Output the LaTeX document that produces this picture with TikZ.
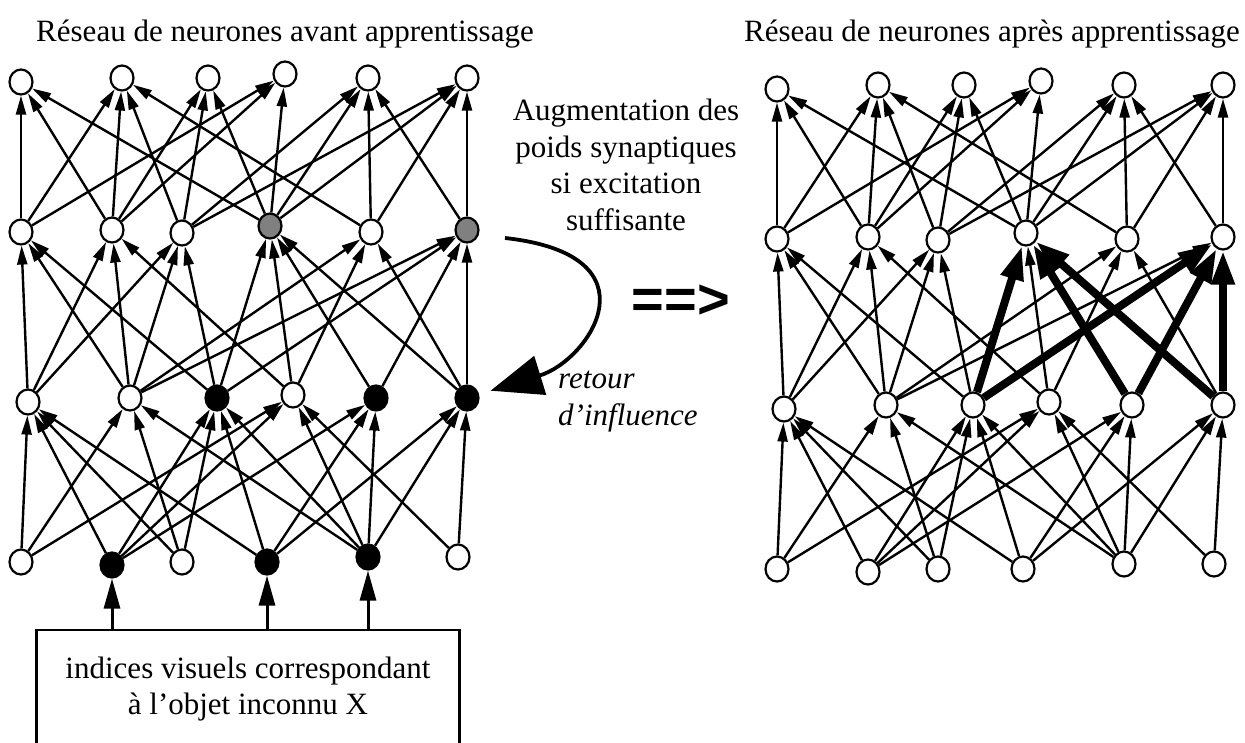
\documentclass[tikz,border=0pt]{standalone}
\usepackage{fontspec}
\setmainfont{Liberation Serif}
\newfontfamily\heavyfont{Liberation Sans}
\usepackage{tikz}
\usetikzlibrary{positioning}
\usetikzlibrary{calc}
\usetikzlibrary{arrows.meta}
\usetikzlibrary{shapes.geometric}

\begin{document}
\begin{tikzpicture}[x=1pt, y=-1pt, line width=2.4pt, >={Triangle[length=19pt,width=10pt]}]
	\tikzstyle{neuron}=[ellipse, draw=black, line width=2.2pt, fill=white, minimum width=23pt, minimum height=25pt, inner sep=0pt]
	\tikzstyle{fired}=[neuron, fill=black]
	\tikzstyle{halfway}=[neuron, fill=gray]
	\tikzstyle{strong}=[line width=8pt, -{Triangle[length=34pt,width=22pt]}]
	\tikzstyle{note}=[font=\fontsize{31}{36.5}\selectfont, inner sep=0pt, align=center]
	
	\useasboundingbox (0,0) rectangle (1245,742);
	
	\node at (285,41) [note, anchor=base] (titleL) {Réseau de neurones avant apprentissage};
	\node at (992,41) [note, anchor=base] (titleR) {Réseau de neurones après apprentissage};
	
	% avant apprentissage
	\node at (21,82)  [neuron] (y1) {};
	\node at (122,78) [neuron] (y2) {};
	\node at (208,78) [neuron] (y3) {};
	\node at (285,74) [neuron] (y4) {};
	\node at (368,78) [neuron] (y5) {};
	\node at (467,78) [neuron] (y6) {};
	
	\node at (21,232)  [neuron] (g1) {};
	\node at (112,230) [neuron] (g2) {};
	\node at (182,233) [neuron] (g3) {};
	\node at (270,226) [halfway] (g4) {};
	\node at (371,232) [neuron] (g5) {};
	\node at (467,230) [halfway] (g6) {};
	
	\node at (28,402)  [neuron] (h1) {};
	\node at (130,398) [neuron] (h2) {};
	\node at (217,398) [fired] (h3) {};
	\node at (293,395) [neuron] (h4) {};
	\node at (376,398) [fired] (h5) {};
	\node at (467,398) [fired] (h6) {};
	
	\node at (21,562)  [neuron] (x1) {};
	\node at (112,565) [fired] (x2) {};
	\node at (182,562) [neuron] (x3) {};
	\node at (267,562) [fired] (x4) {};
	\node at (368,557) [fired] (x5) {};
	\node at (458,557) [neuron] (x6) {};
	
	\draw [->] (x1) to (h1); \draw [->] (x1) to (h2); \draw [->] (x1) to (h4);
	\draw [->] (x2) to (h1); \draw [->] (x2) to (h3); \draw [->] (x2) to (h4); \draw [->] (x2) to (h5);
	\draw [->] (x3) to (h1); \draw [->] (x3) to (h2); \draw [->] (x3) to (h3);
	\draw [->] (x4) to (h1); \draw [->] (x4) to (h3); \draw [->] (x4) to (h5); \draw [->] (x4) to (h6);
	\draw [->] (x5) to (h2); \draw [->] (x5) to (h3); \draw [->] (x5) to (h4); \draw [->] (x5) to (h5); \draw [->] (x5) to (h6);
	\draw [->] (x6) to (h4); \draw [->] (x6) to (h6);
	
	\draw [->] (h1) to (g1); \draw [->] (h1) to (g2); \draw [->] (h1) to (g3);
	\draw [->] (h2) to (g1); \draw [->] (h2) to (g2); \draw [->] (h2) to (g3); \draw [->] (h2) to (g5); \draw [->] (h2) to (g6);
	\draw [->] (h3) to (g1); \draw [->] (h3) to (g3); \draw [->] (h3) to (g4); \draw [->] (h3) to (g6);
	\draw [->] (h4) to (g2); \draw [->] (h4) to (g4); \draw [->] (h4) to (g5);
	\draw [->] (h5) to (g4); \draw [->] (h5) to (g6);
	\draw [->] (h6) to (g4); \draw [->] (h6) to (g5); \draw [->] (h6) to (g6);
	
	\draw [->] (g1) to (y1); \draw [->] (g1) to (y2); \draw [->] (g1) to (y4);
	\draw [->] (g2) to (y1); \draw [->] (g2) to (y2); \draw [->] (g2) to (y3); \draw [->] (g2) to (y4);
	\draw [->] (g3) to (y2); \draw [->] (g3) to (y3); \draw [->] (g3) to (y5); \draw [->] (g3) to (y6);
	\draw [->] (g4) to (y1); \draw [->] (g4) to (y3); \draw [->] (g4) to (y4); \draw [->] (g4) to (y5); \draw [->] (g4) to (y6);
	\draw [->] (g5) to (y2); \draw [->] (g5) to (y5); \draw [->] (g5) to (y6);
	\draw [->] (g6) to (y5); \draw [->] (g6) to (y6);
	
	% entree
	\node at (248,689) [note, draw, line width=2.2pt, minimum width=423pt, minimum height=118pt] (cues) {indices visuels correspondant\\à l'objet inconnu X};
	\draw [->, line width=3pt, >={Triangle[length=30pt,width=16pt]}] (cues.north -| x2) to (x2);
	\draw [->, line width=3pt, >={Triangle[length=30pt,width=16pt]}] (cues.north -| x4) to (x4);
	\draw [->, line width=3pt, >={Triangle[length=30pt,width=16pt]}] (cues.north -| x5) to (x5);
	
	% retour
	\node at (626,98) [note, anchor=north] (rule) {Augmentation des\\poids synaptiques\\si excitation\\suffisante};
	\coordinate (feed) at (505,238);
	\draw [line width=3.8pt, -{Triangle[length=52pt,width=40pt]}, shorten >=12pt] (feed) .. controls (660,255) and (590,360) .. (h6);
	\node at (557,370) [note, anchor=north west, align=left, font=\fontsize{31}{36.5}\selectfont\itshape] (back) {retour\\d'influence};
	
	\node at (681,302) [font=\fontsize{56}{56}\selectfont\heavyfont\bfseries] (implies) {==>};
	
	% apres apprentissage
	\begin{scope}[shift={(756,7)}]
	\node at (21,82)  [neuron] (ry1) {};
	\node at (122,78) [neuron] (ry2) {};
	\node at (208,78) [neuron] (ry3) {};
	\node at (285,74) [neuron] (ry4) {};
	\node at (368,78) [neuron] (ry5) {};
	\node at (467,78) [neuron] (ry6) {};
	
	\node at (21,232)  [neuron] (rg1) {};
	\node at (112,230) [neuron] (rg2) {};
	\node at (182,233) [neuron] (rg3) {};
	\node at (270,226) [neuron] (rg4) {};
	\node at (371,232) [neuron] (rg5) {};
	\node at (467,230) [neuron] (rg6) {};
	
	\node at (28,402)  [neuron] (rh1) {};
	\node at (130,398) [neuron] (rh2) {};
	\node at (217,398) [neuron] (rh3) {};
	\node at (293,395) [neuron] (rh4) {};
	\node at (376,398) [neuron] (rh5) {};
	\node at (467,398) [neuron] (rh6) {};
	
	\node at (21,562)  [neuron] (rx1) {};
	\node at (112,565) [neuron] (rx2) {};
	\node at (182,562) [neuron] (rx3) {};
	\node at (267,562) [neuron] (rx4) {};
	\node at (368,557) [neuron] (rx5) {};
	\node at (458,557) [neuron] (rx6) {};
	\end{scope}
	
	\draw [->] (rx1) to (rh1); \draw [->] (rx1) to (rh2); \draw [->] (rx1) to (rh4);
	\draw [->] (rx2) to (rh1); \draw [->] (rx2) to (rh3); \draw [->] (rx2) to (rh4); \draw [->] (rx2) to (rh5);
	\draw [->] (rx3) to (rh1); \draw [->] (rx3) to (rh2); \draw [->] (rx3) to (rh3);
	\draw [->] (rx4) to (rh1); \draw [->] (rx4) to (rh3); \draw [->] (rx4) to (rh5); \draw [->] (rx4) to (rh6);
	\draw [->] (rx5) to (rh2); \draw [->] (rx5) to (rh3); \draw [->] (rx5) to (rh4); \draw [->] (rx5) to (rh5); \draw [->] (rx5) to (rh6);
	\draw [->] (rx6) to (rh4); \draw [->] (rx6) to (rh6);
	
	\draw [->] (rh1) to (rg1); \draw [->] (rh1) to (rg2); \draw [->] (rh1) to (rg3);
	\draw [->] (rh2) to (rg1); \draw [->] (rh2) to (rg2); \draw [->] (rh2) to (rg3); \draw [->] (rh2) to (rg5); \draw [->] (rh2) to (rg6);
	\draw [->] (rh3) to (rg1); \draw [->] (rh3) to (rg3); \draw [strong] (rh3) to (rg4); \draw [strong] (rh3) to (rg6);
	\draw [->] (rh4) to (rg2); \draw [->] (rh4) to (rg4); \draw [->] (rh4) to (rg5);
	\draw [strong] (rh5) to (rg4); \draw [strong] (rh5) to (rg6);
	\draw [strong] (rh6) to (rg4); \draw [->] (rh6) to (rg5); \draw [strong] (rh6) to (rg6);
	
	\draw [->] (rg1) to (ry1); \draw [->] (rg1) to (ry2); \draw [->] (rg1) to (ry4);
	\draw [->] (rg2) to (ry1); \draw [->] (rg2) to (ry2); \draw [->] (rg2) to (ry3); \draw [->] (rg2) to (ry4);
	\draw [->] (rg3) to (ry2); \draw [->] (rg3) to (ry3); \draw [->] (rg3) to (ry5); \draw [->] (rg3) to (ry6);
	\draw [->] (rg4) to (ry1); \draw [->] (rg4) to (ry3); \draw [->] (rg4) to (ry4); \draw [->] (rg4) to (ry5); \draw [->] (rg4) to (ry6);
	\draw [->] (rg5) to (ry2); \draw [->] (rg5) to (ry5); \draw [->] (rg5) to (ry6);
	\draw [->] (rg6) to (ry5); \draw [->] (rg6) to (ry6);
\end{tikzpicture}
\end{document}
